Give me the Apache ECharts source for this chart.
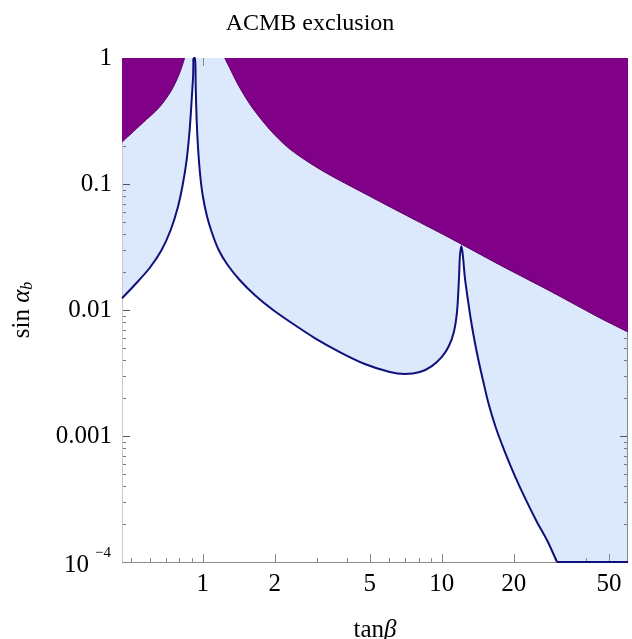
<!DOCTYPE html>
<html><head><meta charset="utf-8">
<script src="https://cdn.jsdelivr.net/npm/echarts@6/dist/echarts.min.js"></script>
<style>html,body{margin:0;padding:0;background:#fff}#c{width:632px;height:639px}</style>
</head><body><div id="c"></div>
<script>
// ---- data ----
const xRange = [0.46, 60];
const yRange = [0.0001, 1];
const xMajorTicks = [1, 2, 5, 10, 20, 50];
const xTickLabels = ['1', '2', '5', '10', '20', '50'];
const xMinorTicks = [0.5, 0.6, 0.7, 0.8, 0.9, 3, 4, 6, 7, 8, 9, 30, 40];
const yMajorTicks = [1, 0.1, 0.01, 0.001, 0.0001];
const yTickLabels = ['1', '0.1', '0.01', '0.001', '10^-4'];
const yMinorTicks = [0.0002,0.0003,0.0004,0.0005,0.0006,0.0007,0.0008,0.0009,
  0.002,0.003,0.004,0.005,0.006,0.007,0.008,0.009,
  0.02,0.03,0.04,0.05,0.06,0.07,0.08,0.09,
  0.2,0.3,0.4,0.5,0.6,0.7,0.8,0.9];
// blue boundary curve: left branch (tanβ, sin α_b)
const leftBranch = [
  [0.46, 0.0124], [0.5194, 0.01579], [0.6002, 0.02154], [0.6736, 0.02994],
  [0.7348, 0.04314], [0.786, 0.06449], [0.8248, 0.0982], [0.857, 0.155],
  [0.8822, 0.2683], [0.8995, 0.4642], [0.9126, 0.7328], [0.917, 1.0]
];
// blue boundary curve: right part (down to the lower edge)
const rightCurve = [
  [0.9303, 1.0], [0.9348, 0.6105], [0.9438, 0.3221], [0.9576, 0.1862],
  [0.9762, 0.1179], [1.0, 0.0818], [1.0393, 0.0568], [1.0906, 0.0416],
  [1.1668, 0.02994], [1.2724, 0.02276], [1.4282, 0.0173], [1.6505, 0.01315],
  [1.9446, 0.01018], [2.3571, 0.00788], [2.9419, 0.00599], [3.743, 0.00464],
  [4.7621, 0.00373], [6.059, 0.00322], [7.0, 0.00311], [8.09, 0.00322],
  [9.0807, 0.00359], [10.0, 0.00424], [10.698, 0.00518], [11.225, 0.00669],
  [11.558, 0.00947], [11.726, 0.01441], [11.839, 0.02154], [11.896, 0.02683],
  [12.07, 0.0322], [12.246, 0.02683], [12.484, 0.01795], [12.85, 0.01201],
  [13.226, 0.00833], [13.679, 0.00578], [14.217, 0.00401], [14.848, 0.00278],
  [15.73, 0.00176], [16.827, 0.001158], [18.353, 0.000746], [20.204, 0.000481],
  [22.461, 0.000311], [24.975, 0.000208], [27.5, 0.0001495], [30.28, 0.0001]
];
// the curve continues along the lower edge
const bottomRun = [[30.28, 0.0001], [60, 0.0001]];
// purple (excluded) region boundaries
const purpleLeft = [
  [0.46, 0.215], [0.561, 0.3049], [0.6607, 0.4087], [0.7418, 0.5572],
  [0.8011, 0.7603], [0.8408, 1.0]
];
const purpleRight = [
  [1.236, 1.0], [1.3096, 0.8027], [1.4012, 0.6218], [1.5729, 0.4314],
  [1.7656, 0.3221], [2.0012, 0.2448], [2.3121, 0.1896], [2.8031, 0.1468],
  [3.3999, 0.1179], [4.5392, 0.088], [6.6717, 0.0599], [10.801, 0.0373],
  [17.486, 0.02276], [28.31, 0.01415], [45.83, 0.00864], [60, 0.00669]
];

// ---- derived ----
const blueCurve = leftBranch.concat(rightCurve);

const PURPLE = '#800088';
const LIGHTBLUE = '#dce8fc';
const NAVY = '#10107c';
const FRAME = '#8a8a8a';
const FONT = '"Liberation Serif", "DejaVu Serif", serif';
const SMOOTH = 0.3;

function line(x1, y1, x2, y2, color) {
  return { type: 'line', shape: { x1: x1, y1: y1, x2: x2, y2: y2 }, style: { stroke: color, lineWidth: 1 } };
}

function purpleSeries(data) {
  return {
    type: 'line', z: 4, data: data, showSymbol: false, silent: true, clip: true,
    smooth: SMOOTH,
    lineStyle: { color: '#5c0060', width: 1 },
    areaStyle: { color: PURPLE, opacity: 1, origin: 'end' }
  };
}

const chart = echarts.init(document.getElementById('c'), null, { renderer: 'canvas' });
chart.setOption({
  animation: false,
  backgroundColor: '#fff',
  graphic: [{
    type: 'text', x: 310, y: 24,
    style: { text: 'ACMB exclusion', font: '24px ' + FONT, fill: '#000', align: 'center', verticalAlign: 'middle' }
  }],
  grid: { left: 122, right: 4, top: 58, bottom: 77, show: true, backgroundColor: LIGHTBLUE, borderWidth: 0,
          containLabel: false, outerBoundsMode: 'none' },
  xAxis: {
    type: 'log', logBase: 10, min: xRange[0], max: xRange[1],
    name: '{n|tan}{g|β}', nameLocation: 'middle', nameGap: 56,
    nameTextStyle: { rich: {
      n: { fontFamily: FONT, fontSize: 25, color: '#000' },
      g: { fontFamily: FONT, fontSize: 25, fontStyle: 'italic', color: '#000' } } },
    axisLine: { show: false }, axisTick: { show: false }, axisLabel: { show: false }, splitLine: { show: false }
  },
  yAxis: {
    type: 'log', logBase: 10, min: yRange[0], max: yRange[1],
    name: '{n|sin }{g|α}{s|b}', nameLocation: 'middle', nameGap: 86, nameRotate: 90,
    nameTextStyle: { rich: {
      n: { fontFamily: FONT, fontSize: 25, color: '#000' },
      g: { fontFamily: FONT, fontSize: 25, fontStyle: 'italic', color: '#000' },
      s: { fontFamily: FONT, fontSize: 16, fontStyle: 'italic', color: '#000', verticalAlign: 'bottom', padding: [12, 0, 0, 0] } } },
    axisLine: { show: false }, axisTick: { show: false }, axisLabel: { show: false }, splitLine: { show: false }
  },
  series: [
    // white (allowed) region under the blue curve
    {
      type: 'line', z: 2, data: blueCurve, showSymbol: false, silent: true, clip: true,
      smooth: SMOOTH,
      lineStyle: { width: 0, opacity: 0 },
      areaStyle: { color: '#ffffff', opacity: 1, origin: 'start' }
    },
    // ticks and frame
    {
      type: 'custom', coordinateSystem: 'cartesian2d', z: 3, silent: true, clip: false,
      data: xMajorTicks.map(function (v) { return [v, yRange[0]]; }),
      renderItem: function (params, api) {
        const v = api.value(0);
        const b = api.coord([v, yRange[0]]);
        const t = api.coord([v, yRange[1]]);
        const x = Math.round(b[0]) + 0.5;
        return { type: 'group', children: [
          line(x, b[1], x, b[1] - 8, FRAME),
          line(x, t[1], x, t[1] + 8, FRAME),
          { type: 'text', x: b[0], y: b[1] + 10,
            style: { text: xTickLabels[params.dataIndex], font: '25px ' + FONT, fill: '#000', align: 'center', verticalAlign: 'top' } }
        ] };
      }
    },
    {
      type: 'custom', coordinateSystem: 'cartesian2d', z: 3, silent: true, clip: false,
      data: xMinorTicks.map(function (v) { return [v, yRange[0]]; }),
      renderItem: function (params, api) {
        const v = api.value(0);
        const b = api.coord([v, yRange[0]]);
        const t = api.coord([v, yRange[1]]);
        const x = Math.round(b[0]) + 0.5;
        return { type: 'group', children: [
          line(x, b[1], x, b[1] - 4, FRAME),
          line(x, t[1], x, t[1] + 4, FRAME)
        ] };
      }
    },
    {
      type: 'custom', coordinateSystem: 'cartesian2d', z: 3, silent: true, clip: false,
      data: yMajorTicks.map(function (v) { return [xRange[0], v]; }),
      renderItem: function (params, api) {
        const v = api.value(1);
        const l = api.coord([xRange[0], v]);
        const r = api.coord([xRange[1], v]);
        const y = Math.round(l[1]) + 0.5;
        const lab = yTickLabels[params.dataIndex];
        const children = [
          line(l[0], y, l[0] + 8, y, '#555'),
          line(r[0], y, r[0] - 8, y, '#555')
        ];
        if (lab.indexOf('^') >= 0) {
          const parts = lab.split('^');
          children.push({ type: 'text', x: l[0] - 33, y: l[1] + 3,
            style: { text: parts[0], font: '25px ' + FONT, fill: '#000', align: 'right', verticalAlign: 'middle' } });
          children.push({ type: 'text', x: l[0] - 11, y: l[1] - 9,
            style: { text: parts[1].replace('-', '\u2212'), font: '15px ' + FONT, fill: '#000', align: 'right', verticalAlign: 'middle' } });
        } else {
          children.push({ type: 'text', x: l[0] - 10, y: l[1],
            style: { text: lab, font: '25px ' + FONT, fill: '#000', align: 'right', verticalAlign: 'middle' } });
        }
        return { type: 'group', children: children };
      }
    },
    {
      type: 'custom', coordinateSystem: 'cartesian2d', z: 3, silent: true, clip: false,
      data: yMinorTicks.map(function (v) { return [xRange[0], v]; }),
      renderItem: function (params, api) {
        const v = api.value(1);
        const l = api.coord([xRange[0], v]);
        const r = api.coord([xRange[1], v]);
        const y = Math.round(l[1]) + 0.5;
        return { type: 'group', children: [
          line(l[0], y, l[0] + 4, y, '#777'),
          line(r[0], y, r[0] - 4, y, '#777')
        ] };
      }
    },
    {
      type: 'custom', coordinateSystem: 'cartesian2d', z: 3, silent: true, clip: false,
      data: [[xRange[0], yRange[0]]],
      renderItem: function (params, api) {
        const bl = api.coord([xRange[0], yRange[0]]);
        const tr = api.coord([xRange[1], yRange[1]]);
        return { type: 'group', children: [
          line(bl[0], bl[1] + 0.5, tr[0], bl[1] + 0.5, FRAME),
          line(tr[0] - 0.5, bl[1], tr[0] - 0.5, tr[1], FRAME),
          line(bl[0] + 0.5, bl[1], bl[0] + 0.5, tr[1], '#c8c8d0')
        ] };
      }
    },
    purpleSeries(purpleLeft),
    purpleSeries(purpleRight),
    // blue boundary line
    {
      type: 'line', z: 5, data: blueCurve, showSymbol: false, silent: true, clip: true,
      smooth: SMOOTH,
      lineStyle: { color: NAVY, width: 2 }
    },
    {
      type: 'line', z: 5, data: bottomRun, showSymbol: false, silent: true, clip: false,
      lineStyle: { color: NAVY, width: 2 }
    }
  ]
});
</script>
</body></html>
